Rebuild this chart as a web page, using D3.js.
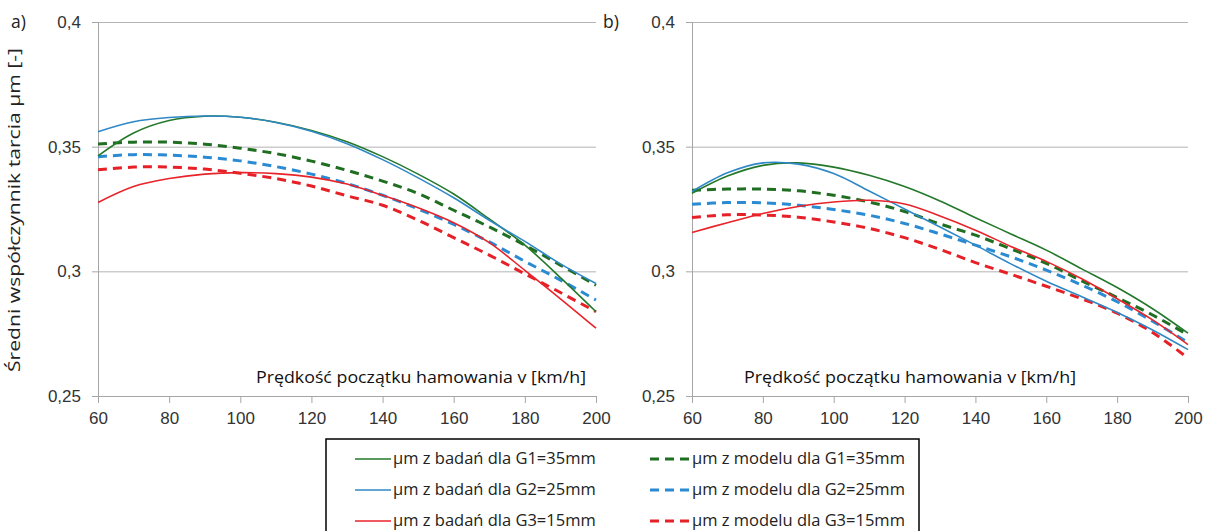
<!DOCTYPE html>
<html>
<head>
<meta charset="utf-8">
<script src="https://cdn.jsdelivr.net/npm/d3@7"></script>
<style>
  body { margin: 0; background: #fff; }
  svg { display: block; font-family: "Open Sans", "DejaVu Sans", sans-serif; }
</style>
</head>
<body>
<svg></svg>
<script>
// predkosc poczatku hamowania [km/h]
const speeds = [60, 70, 80, 90, 100, 110, 120, 130, 140, 150, 160, 170, 180, 190, 200];

// panel a) - wartosci
const aBadaniaG1 = [0.3463, 0.3555, 0.3605, 0.3622, 0.3618, 0.3598, 0.3565, 0.3520, 0.3460, 0.3390, 0.3310, 0.3210, 0.3105, 0.2975, 0.2838];
const aBadaniaG2 = [0.3560, 0.3600, 0.3617, 0.3623, 0.3618, 0.3597, 0.3562, 0.3512, 0.3448, 0.3375, 0.3295, 0.3205, 0.3120, 0.3030, 0.2951];
const aBadaniaG3 = [0.3276, 0.3340, 0.3372, 0.3390, 0.3396, 0.3392, 0.3378, 0.3350, 0.3305, 0.3255, 0.3195, 0.3115, 0.3004, 0.2890, 0.2772];
const aModelG1 = [0.3511, 0.3518, 0.3518, 0.3510, 0.3494, 0.3472, 0.3442, 0.3405, 0.3362, 0.3312, 0.3245, 0.3178, 0.3105, 0.3025, 0.2944];
const aModelG2 = [0.3460, 0.3468, 0.3466, 0.3458, 0.3443, 0.3420, 0.3390, 0.3352, 0.3305, 0.3250, 0.3188, 0.3118, 0.3040, 0.2965, 0.2885];
const aModelG3 = [0.3407, 0.3418, 0.3418, 0.3410, 0.3393, 0.3372, 0.3342, 0.3303, 0.3265, 0.3205, 0.3135, 0.3065, 0.2990, 0.2915, 0.2838];

// panel b)
const bBadaniaG1 = [0.3313, 0.3382, 0.3425, 0.3435, 0.3418, 0.3385, 0.3340, 0.3282, 0.3215, 0.3150, 0.3085, 0.3010, 0.2935, 0.2850, 0.2752];
const bBadaniaG2 = [0.3320, 0.3395, 0.3435, 0.3430, 0.3392, 0.3322, 0.3250, 0.3178, 0.3105, 0.3030, 0.2960, 0.2898, 0.2835, 0.2765, 0.2686];
const bBadaniaG3 = [0.3156, 0.3195, 0.3232, 0.3260, 0.3278, 0.3285, 0.3270, 0.3222, 0.3165, 0.3100, 0.3040, 0.2970, 0.2890, 0.2805, 0.2706];
const bModelG1 = [0.3325, 0.3330, 0.3330, 0.3323, 0.3305, 0.3278, 0.3240, 0.3190, 0.3145, 0.3090, 0.3032, 0.2962, 0.2895, 0.2825, 0.2745];
const bModelG2 = [0.3269, 0.3276, 0.3275, 0.3265, 0.3248, 0.3225, 0.3192, 0.3150, 0.3105, 0.3058, 0.3005, 0.2945, 0.2878, 0.2800, 0.2715];
const bModelG3 = [0.3216, 0.3227, 0.3226, 0.3217, 0.3198, 0.3172, 0.3135, 0.3088, 0.3035, 0.2988, 0.2940, 0.2890, 0.2832, 0.2755, 0.2652];

const xTicks = [60, 80, 100, 120, 140, 160, 180, 200];
const yTicks = [0.25, 0.3, 0.35, 0.4];
const yTickLabels = ["0,25", "0,3", "0,35", "0,4"];

const legendLabels = [
  "μm z badań dla G1=35mm", "μm z modelu dla G1=35mm",
  "μm z badań dla G2=25mm", "μm z modelu dla G2=25mm",
  "μm z badań dla G3=15mm", "μm z modelu dla G3=15mm"
];

const colors = { g1: "#23782a", g2: "#2f88c6", g3: "#e8232a" };
const colorsModel = { g1: "#1f6e22", g2: "#2a8ad2", g3: "#e52026" };

const svgWidth = 1205;
const svgHeight = 531;
const yTop = 22, yBottom = 396;

let svg = d3.select("svg")
  .attr("width", svgWidth)
  .attr("height", svgHeight);

let scaleY = d3.scaleLinear().domain([0.25, 0.4]).range([yBottom, yTop]);

const panels = [
  { label: "a)", labelX: 11, x0: 98, x1: 596, titleX: 256, titleW: 330,
    series: [
      { v: aBadaniaG1, c: colors.g1, dash: false },
      { v: aBadaniaG2, c: colors.g2, dash: false },
      { v: aBadaniaG3, c: colors.g3, dash: false },
      { v: aModelG1, c: colorsModel.g1, dash: true },
      { v: aModelG2, c: colorsModel.g2, dash: true },
      { v: aModelG3, c: colorsModel.g3, dash: true }
    ] },
  { label: "b)", labelX: 603, x0: 692, x1: 1188, titleX: 744, titleW: 332,
    series: [
      { v: bBadaniaG1, c: colors.g1, dash: false },
      { v: bBadaniaG2, c: colors.g2, dash: false },
      { v: bBadaniaG3, c: colors.g3, dash: false },
      { v: bModelG1, c: colorsModel.g1, dash: true },
      { v: bModelG2, c: colorsModel.g2, dash: true },
      { v: bModelG3, c: colorsModel.g3, dash: true }
    ] }
];

panels.forEach(function(p) {
  let scaleX = d3.scaleLinear().domain([60, 200]).range([p.x0, p.x1]);

  // gridlines
  svg.append("g")
    .attr("transform", "translate(" + p.x0 + ",0)")
    .call(d3.axisLeft(scaleY).tickValues(yTicks).tickSize(-(p.x1 - p.x0)).tickFormat(""))
    .call(g => g.select(".domain").remove())
    .call(g => g.selectAll("line").attr("stroke", "#b4b4b4"));

  // y axis
  svg.append("g")
    .attr("transform", "translate(" + p.x0 + ",0)")
    .call(d3.axisLeft(scaleY).tickValues(yTicks).tickSize(6).tickPadding(11)
      .tickFormat((d, i) => yTickLabels[i]))
    .call(g => g.select(".domain").attr("stroke", "#a6a6a6"))
    .call(g => g.selectAll("line").attr("stroke", "#a6a6a6"))
    .call(g => g.selectAll("text").attr("font-size", 17).attr("fill", "#333").attr("font-family", null));

  // x axis
  svg.append("g")
    .attr("transform", "translate(0," + yBottom + ")")
    .call(d3.axisBottom(scaleX).tickValues(xTicks).tickSize(7).tickPadding(9))
    .call(g => g.select(".domain").attr("stroke", "#a6a6a6"))
    .call(g => g.selectAll("line").attr("stroke", "#a6a6a6"))
    .call(g => g.selectAll("text").attr("font-size", 17).attr("fill", "#333").attr("font-family", null));

  // lines
  let line = d3.line()
    .x((d, i) => scaleX(speeds[i]))
    .y(d => scaleY(d))
    .curve(d3.curveCatmullRom);

  // dashed first, then solid on top
  p.series.slice().sort((a, b) => b.dash - a.dash).forEach(function(s) {
    svg.append("path")
      .datum(s.v)
      .attr("d", line)
      .attr("fill", "none")
      .attr("stroke", s.c)
      .attr("stroke-width", s.dash ? 3 : 1.6)
      .attr("stroke-dasharray", s.dash ? "9,6" : null);
  });

  svg.append("text")
    .attr("x", p.titleX)
    .attr("y", 383)
    .attr("font-size", 16.5)
    .attr("fill", "#111")
    .attr("textLength", p.titleW)
    .attr("lengthAdjust", "spacingAndGlyphs")
    .text("Prędkość początku hamowania v [km/h]");

  svg.append("text")
    .attr("x", p.labelX)
    .attr("y", 28)
    .attr("font-size", 17.5)
    .attr("fill", "#222")
    .text(p.label);
});

// y axis title
svg.append("text")
  .attr("transform", "translate(20,210) rotate(-90)")
  .attr("text-anchor", "middle")
  .attr("font-size", 16)
  .attr("fill", "#222")
  .attr("textLength", 324)
  .attr("lengthAdjust", "spacingAndGlyphs")
  .text("Średni współczynnik tarcia μm [-]");

// legend
let legend = svg.append("g");
legend.append("rect")
  .attr("x", 326).attr("y", 439)
  .attr("width", 593).attr("height", 110)
  .attr("fill", "#fff")
  .attr("stroke", "#000")
  .attr("stroke-width", 1.5);

const legendColors = [colors.g1, colorsModel.g1, colors.g2, colorsModel.g2, colors.g3, colorsModel.g3];
legendLabels.forEach(function(lbl, i) {
  let row = Math.floor(i / 2);
  let col = i % 2;
  let y = 459 + row * 31;
  let lx = col === 0 ? 355 : 650;
  let lw = col === 0 ? 36 : 40;
  legend.append("line")
    .attr("x1", lx).attr("x2", lx + lw)
    .attr("y1", y).attr("y2", y)
    .attr("stroke", legendColors[i])
    .attr("stroke-width", col === 0 ? 1.6 : 3)
    .attr("stroke-dasharray", col === 0 ? null : "9,6");
  legend.append("text")
    .attr("x", lx + lw + 2)
    .attr("y", y + 5)
    .attr("font-size", 16.5)
    .attr("fill", "#222")
    .text(lbl);
});
</script>
</body>
</html>
